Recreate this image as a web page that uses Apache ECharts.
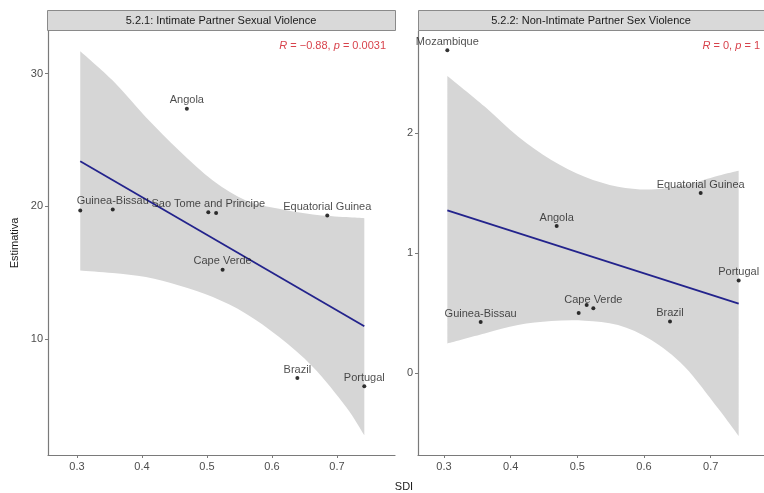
<!DOCTYPE html>
<html>
<head>
<meta charset="utf-8">
<script src="https://cdn.jsdelivr.net/npm/echarts@6/dist/echarts.min.js"></script>
<style>html,body{margin:0;padding:0;background:#fff;}#c{width:764px;height:493px;}</style>
</head>
<body>
<div id="c"></div>
<script>
// ---- data ----
const sdi = [0.305, 0.355, 0.469, 0.502, 0.514, 0.524, 0.639, 0.685, 0.742];
const labels1 = ['', 'Guinea-Bissau', 'Angola', 'Sao Tome and Principe', '', 'Cape Verde', 'Brazil', 'Equatorial Guinea', 'Portugal'];
const labels2 = ['Mozambique', 'Guinea-Bissau', 'Angola', '', '', 'Cape Verde', 'Brazil', 'Equatorial Guinea', 'Portugal'];
const est1 = [19.7, 19.77, 27.35, 19.57, 19.5, 15.24, 7.09, 19.32, 6.47];
const est2 = [2.69, 0.425, 1.225, 0.50, 0.567, 0.54, 0.43, 1.50, 0.77];

const fitX = [0.305, 0.742];
const fit1 = [23.4, 10.98];
const fit2 = [1.356, 0.578];

const bandX1 = [0.305, 0.355, 0.406, 0.457, 0.509, 0.560, 0.611, 0.663, 0.714, 0.742];
const upper1 = [31.68, 29.47, 26.71, 24.21, 21.95, 20.45, 19.82, 19.40, 19.20, 19.12];
const lower1 = [15.19, 14.99, 14.69, 14.06, 13.18, 11.93, 10.17, 7.92, 4.91, 2.78];

const bandX2 = [0.305, 0.361, 0.411, 0.461, 0.511, 0.561, 0.611, 0.661, 0.711, 0.742];
const upper2 = [2.475, 2.22, 1.97, 1.775, 1.636, 1.553, 1.53, 1.567, 1.644, 1.686];
const lower2 = [0.247, 0.33, 0.40, 0.433, 0.436, 0.40, 0.275, 0.053, -0.294, -0.525];

const xTicks = [0.3, 0.4, 0.5, 0.6, 0.7];
const yTicks1 = [10, 20, 30];
const yTicks2 = [0, 1, 2];

const panelTitles = ['5.2.1: Intimate Partner Sexual Violence', '5.2.2: Non-Intimate Partner Sex Violence'];
const xTitle = 'SDI';
const yTitle = 'Estimativa';

// ---- chart ----
const FONT = 'Liberation Sans, Arial, sans-serif';
const chart = echarts.init(document.getElementById('c'), null, {renderer: 'canvas'});

function xAxisFor(gi, min, max) {
  return {
    type: 'value', gridIndex: gi, min: min, max: max,
    splitLine: {show: false},
    axisLine: {show: true, onZero: false, lineStyle: {color: '#7a7a7a', width: 1.2}},
    axisTick: {show: true, length: 3, lineStyle: {color: '#7a7a7a'}, customValues: xTicks},
    axisLabel: {color: '#4d4d4d', fontSize: 11, fontFamily: FONT, margin: 6, customValues: xTicks,
      formatter: v => (Math.round(v * 10) / 10).toFixed(1)}
  };
}
function yAxisFor(gi, min, max, ticks, name) {
  return {
    type: 'value', gridIndex: gi, min: min, max: max,
    name: name, nameLocation: 'middle', nameGap: 28, nameRotate: 90,
    nameTextStyle: {color: '#1a1a1a', fontSize: 11, fontFamily: FONT},
    splitLine: {show: false},
    axisLine: {show: true, onZero: false, lineStyle: {color: '#7a7a7a', width: 1.2}},
    axisTick: {show: true, length: 3, lineStyle: {color: '#7a7a7a'}, customValues: ticks},
    axisLabel: {color: '#4d4d4d', fontSize: 11, fontFamily: FONT, margin: 5, customValues: ticks}
  };
}

// smooth path through screen points (Catmull-Rom -> cubic Bezier)
function smoothSeg(pts, startWithMove) {
  let d = startWithMove ? 'M' + pts[0][0] + ' ' + pts[0][1] : 'L' + pts[0][0] + ' ' + pts[0][1];
  for (let i = 0; i < pts.length - 1; i++) {
    const p0 = pts[Math.max(0, i - 1)], p1 = pts[i], p2 = pts[i + 1], p3 = pts[Math.min(pts.length - 1, i + 2)];
    const c1x = p1[0] + (p2[0] - p0[0]) / 6, c1y = p1[1] + (p2[1] - p0[1]) / 6;
    const c2x = p2[0] - (p3[0] - p1[0]) / 6, c2y = p2[1] - (p3[1] - p1[1]) / 6;
    d += ' C' + c1x + ' ' + c1y + ' ' + c2x + ' ' + c2y + ' ' + p2[0] + ' ' + p2[1];
  }
  return d;
}
function bandSeries(gi, xs, lo, hi) {
  return {
    type: 'custom', xAxisIndex: gi, yAxisIndex: gi, silent: true, z: 1,
    data: [[xs[0], lo[0]]],
    renderItem: function (params, api) {
      const up = xs.map((x, i) => api.coord([x, hi[i]]));
      const dn = xs.map((x, i) => api.coord([x, lo[i]])).reverse();
      const d = smoothSeg(up, true) + ' ' + smoothSeg(dn, false) + ' Z';
      return {type: 'path', shape: {pathData: d}, style: {fill: '#d6d6d6', stroke: null}};
    }
  };
}
function fitSeries(gi, ys) {
  return {type: 'line', xAxisIndex: gi, yAxisIndex: gi, data: fitX.map((x, i) => [x, ys[i]]),
    symbol: 'none', lineStyle: {color: '#23238c', width: 1.8}, z: 3, silent: true};
}
function pointSeries(gi, ys, labs) {
  return {type: 'scatter', xAxisIndex: gi, yAxisIndex: gi, symbolSize: 4,
    itemStyle: {color: '#000'}, z: 4,
    data: sdi.map((x, i) => ({value: [x, ys[i]], name: labs[i],
      label: {show: labs[i] !== '', formatter: labs[i], position: 'top', distance: 1,
        color: '#1e1e1e', fontSize: 11, fontFamily: FONT}}))};
}

const option = {
  animation: false,
  backgroundColor: '#ffffff',
  grid: [
    {left: 48, top: 31, width: 347, height: 424},
    {left: 418, top: 31, width: 346, height: 424}
  ],
  xAxis: [xAxisFor(0, 0.2554, 0.7892), xAxisFor(1, 0.261, 0.780)],
  yAxis: [yAxisFor(0, 1.3, 33.2, yTicks1, yTitle), yAxisFor(1, -0.683, 2.85, yTicks2, '')],
  series: [
    bandSeries(0, bandX1, lower1, upper1),
    bandSeries(1, bandX2, lower2, upper2),
    fitSeries(0, fit1), fitSeries(1, fit2),
    pointSeries(0, est1, labels1), pointSeries(1, est2, labels2)
  ],
  graphic: [
    {type: 'rect', shape: {x: 47.5, y: 10.5, width: 348, height: 20}, style: {fill: '#d9d9d9', stroke: '#8a8a8a', lineWidth: 1}},
    {type: 'rect', shape: {x: 418.5, y: 10.5, width: 350, height: 20}, style: {fill: '#d9d9d9', stroke: '#8a8a8a', lineWidth: 1}},
    {type: 'text', x: 221, y: 21, style: {text: panelTitles[0], fill: '#1a1a1a', font: '11px ' + FONT, textAlign: 'center', textVerticalAlign: 'middle'}},
    {type: 'text', x: 591, y: 21, style: {text: panelTitles[1], fill: '#1a1a1a', font: '11px ' + FONT, textAlign: 'center', textVerticalAlign: 'middle'}},
    {type: 'text', right: 378, top: 40, style: {
      text: '{i|R} = −0.88, {i|p} = 0.0031', fill: '#d8434c', font: '11px ' + FONT,
      rich: {i: {fontStyle: 'italic', fontSize: 11, fontFamily: FONT, fill: '#d8434c'}}}},
    {type: 'text', right: 4, top: 40, style: {
      text: '{i|R} = 0, {i|p} = 1', fill: '#d8434c', font: '11px ' + FONT,
      rich: {i: {fontStyle: 'italic', fontSize: 11, fontFamily: FONT, fill: '#d8434c'}}}},
    {type: 'text', x: 404, y: 487, style: {text: xTitle, fill: '#1a1a1a', font: '11px ' + FONT, textAlign: 'center', textVerticalAlign: 'middle'}}
  ]
};
chart.setOption(option);
</script>
</body>
</html>
